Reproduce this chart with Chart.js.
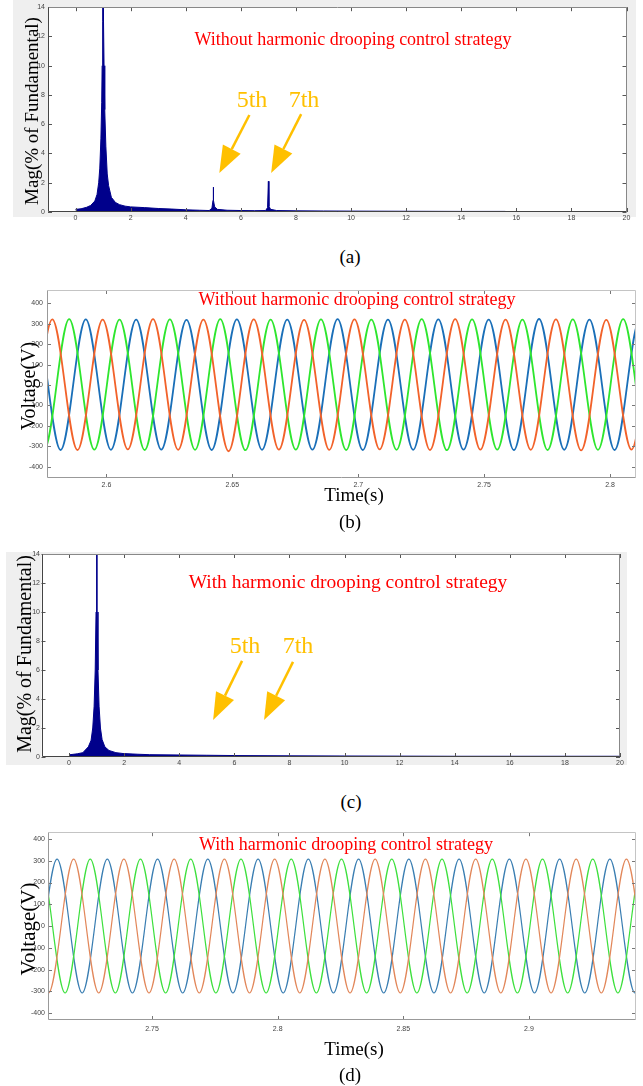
<!DOCTYPE html>
<html>
<head>
<meta charset="utf-8">
<script src="https://cdn.jsdelivr.net/npm/chart.js@4.4.1/dist/chart.umd.min.js"></script>
<style>
  html, body { margin: 0; padding: 0; background: #fff; }
  #page { position: relative; width: 643px; height: 1086px; overflow: hidden; }
  canvas { position: absolute; left: 0; }
  .backdrop { position: absolute; background: #efefef; }
  .t { position: absolute; white-space: nowrap; line-height: 1; transform: translate(-50%, -50%);
       font-family: 'Liberation Serif', 'Times New Roman', serif; color: #000; }
  .red { color: #ff0000; font-size: 18px; }
  .gold { color: #ffc000; font-size: 24px; }
  .ylab { transform: translate(-50%, -50%) rotate(-90deg); }
  .cap { font-size: 19px; }
</style>
</head>
<body>
<div id="page">
  <div class="backdrop" style="left:13px;top:0;width:623px;height:217px"></div>
  <div class="backdrop" style="left:6px;top:552px;width:621px;height:213px"></div>

  <canvas id="spectrumBefore" width="643" height="232" style="top:0"></canvas>
  <canvas id="waveBefore" width="643" height="215" style="top:280px"></canvas>
  <canvas id="spectrumAfter" width="643" height="230" style="top:545px"></canvas>
  <canvas id="waveAfter" width="643" height="215" style="top:825px"></canvas>

  <div class="t red" style="left:353px;top:39px">Without harmonic drooping control strategy</div>
  <div class="t gold" style="left:252px;top:99px">5th</div>
  <div class="t gold" style="left:304px;top:99px">7th</div>
  <div class="t ylab" style="left:31px;top:111px;font-size:19px">Mag(% of Fundamental)</div>
  <div class="t cap" style="left:350px;top:256px">(a)</div>

  <div class="t red" style="left:357px;top:299px">Without harmonic drooping control strategy</div>
  <div class="t ylab" style="left:28px;top:386px;font-size:20px">Voltage(V)</div>
  <div class="t" style="left:354px;top:494px;font-size:19px">Time(s)</div>
  <div class="t cap" style="left:350px;top:521px">(b)</div>

  <div class="t red" style="left:348px;top:582px;font-size:19.5px">With harmonic drooping control strategy</div>
  <div class="t gold" style="left:245px;top:645px">5th</div>
  <div class="t gold" style="left:298px;top:645px">7th</div>
  <div class="t ylab" style="left:24px;top:654px;font-size:20px">Mag(% of Fundamental)</div>
  <div class="t cap" style="left:351px;top:801px">(c)</div>

  <div class="t red" style="left:346px;top:844px">With harmonic drooping control strategy</div>
  <div class="t ylab" style="left:28px;top:929px;font-size:21px">Voltage(V)</div>
  <div class="t" style="left:354px;top:1048px;font-size:19px">Time(s)</div>
  <div class="t cap" style="left:350px;top:1074px">(d)</div>
</div>

<script>
// ---- spectrum without droop control: harmonic order vs % of fundamental ----
const specFreqBefore = [0, 0.2, 0.4, 0.55, 0.7, 0.78, 0.84, 0.88, 0.92, 0.95,
  0.965, 0.985, 1.0, 1.015, 1.035, 1.06, 1.1, 1.15, 1.2, 1.3,
  1.45, 1.6, 1.8, 2.0, 2.5, 3.0, 3.5, 4.0, 4.5, 4.85,
  4.95, 4.99, 5.0, 5.01, 5.05, 5.15, 5.5, 6.0, 6.5, 6.9,
  6.97, 7.0, 7.02, 7.08, 7.3, 8.0, 9.0, 10.0, 12.0, 14.0, 15.6];
const specMagBefore = [0.18, 0.22, 0.32, 0.45, 0.75, 1.2, 2.0, 3.0, 5.0, 7.5,
  10, 13, 100, 13, 10, 7, 4.5, 2.6, 1.8, 1.0,
  0.65, 0.5, 0.4, 0.35, 0.3, 0.24, 0.2, 0.15, 0.12, 0.1,
  0.25, 0.8, 1.7, 0.8, 0.35, 0.18, 0.12, 0.1, 0.09, 0.1,
  0.3, 2.1, 0.4, 0.18, 0.1, 0.08, 0.07, 0.06, 0.05, 0.04, 0.04];

// ---- spectrum with droop control ----
const specFreqAfter = [0, 0.3, 0.5, 0.7, 0.8, 0.86, 0.91, 0.95, 0.98, 1.0,
  1.02, 1.05, 1.09, 1.14, 1.2, 1.3, 1.45, 1.7, 1.96, 2.5,
  2.93, 4.0, 5.0, 6.0, 8.0, 10.0, 12.0, 14.0, 16.0, 18.0, 20.0];
const specMagAfter = [0.15, 0.22, 0.3, 0.7, 1.15, 2.0, 3.5, 6.0, 10, 100,
  10, 6.0, 3.5, 2.0, 1.2, 0.7, 0.45, 0.3, 0.24, 0.19,
  0.16, 0.14, 0.12, 0.1, 0.08, 0.07, 0.06, 0.05, 0.05, 0.05, 0.05];

// ---- phase voltages without droop control: peak/trough instants (s) and values (V) ----
const waveTimeBeforeA = [2.5585, 2.5685, 2.5785, 2.5885, 2.5985, 2.6085, 2.6185, 2.6285, 2.6385, 2.6485,
  2.6585, 2.6685, 2.6785, 2.6885, 2.6985, 2.7085, 2.7185, 2.7285, 2.7385, 2.7485,
  2.7585, 2.7685, 2.7785, 2.7885, 2.7985, 2.8085, 2.8185, 2.8285];
const waveVoltBeforeA = [320, -316, 321, -318, 320, -315, 322, -317, 320, -324, 321, -316, 319, -317,
  321, -315, 320, -318, 322, -316, 320, -317, 321, -320, 319, -316, 320, -318];
const waveTimeBeforeB = [2.5552, 2.5652, 2.5752, 2.5852, 2.5952, 2.6052, 2.6152, 2.6252, 2.6352, 2.6452,
  2.6552, 2.6652, 2.6752, 2.6852, 2.6952, 2.7052, 2.7152, 2.7252, 2.7352, 2.7452,
  2.7552, 2.7652, 2.7752, 2.7852, 2.7952, 2.8052, 2.8152, 2.8252];
const waveVoltBeforeB = [-318, 321, -320, 322, -316, 320, -318, 321, -317, 322, -319, 320, -316, 321,
  -318, 320, -317, 322, -319, 321, -316, 320, -318, 321, -317, 322, -318, 320];
const waveTimeBeforeC = [2.5618, 2.5718, 2.5818, 2.5918, 2.6018, 2.6118, 2.6218, 2.6318, 2.6418, 2.6518,
  2.6618, 2.6718, 2.6818, 2.6918, 2.7018, 2.7118, 2.7218, 2.7318, 2.7418, 2.7518,
  2.7618, 2.7718, 2.7818, 2.7918, 2.8018, 2.8118, 2.8218, 2.8318];
const waveVoltBeforeC = [-316, 319, -318, 321, -317, 320, -316, 319, -318, 321, -317, 320, -316, 322,
  -318, 320, -317, 321, -316, 320, -318, 323, -317, 320, -318, 321, -316, 320];

// ---- phase voltages with droop control ----
const waveTimeAfterA = [2.6888, 2.6988, 2.7088, 2.7188, 2.7288, 2.7388, 2.7488, 2.7588, 2.7688, 2.7788,
  2.7888, 2.7988, 2.8088, 2.8188, 2.8288, 2.8388, 2.8488, 2.8588, 2.8688, 2.8788,
  2.8888, 2.8988, 2.9088, 2.9188, 2.9288, 2.9388, 2.9488, 2.9588];
const waveVoltAfterA = [-307, 307, -307, 307, -307, 307, -307, 307, -307, 307, -307, 307, -307, 307,
  -307, 307, -307, 307, -307, 307, -307, 307, -307, 307, -307, 307, -307, 307];
const waveTimeAfterB = [2.6954, 2.7054, 2.7154, 2.7254, 2.7354, 2.7454, 2.7554, 2.7654, 2.7754, 2.7854,
  2.7954, 2.8054, 2.8154, 2.8254, 2.8354, 2.8454, 2.8554, 2.8654, 2.8754, 2.8854,
  2.8954, 2.9054, 2.9154, 2.9254, 2.9354, 2.9454, 2.9554];
const waveVoltAfterB = [-307, 307, -307, 307, -307, 307, -307, 307, -307, 307, -307, 307, -307, 307,
  -307, 307, -307, 307, -307, 307, -307, 307, -307, 307, -307, 307, -307];
const waveTimeAfterC = [2.6922, 2.7022, 2.7122, 2.7222, 2.7322, 2.7422, 2.7522, 2.7622, 2.7722, 2.7822,
  2.7922, 2.8022, 2.8122, 2.8222, 2.8322, 2.8422, 2.8522, 2.8622, 2.8722, 2.8822,
  2.8922, 2.9022, 2.9122, 2.9222, 2.9322, 2.9422, 2.9522, 2.9622];
const waveVoltAfterC = [307, -307, 307, -307, 307, -307, 307, -307, 307, -307, 307, -307, 307, -307,
  307, -307, 307, -307, 307, -307, 307, -307, 307, -307, 307, -307, 307, -307];

const NAVY = '#00008b';
const GOLD = '#ffc000';

Chart.defaults.font.family = "'Liberation Sans', Arial, sans-serif";
Chart.defaults.font.size = 7;
Chart.defaults.color = '#444';
Chart.defaults.animation = false;

const pairs = (xs, ys) => xs.map((x, i) => ({ x, y: ys[i] }));

// white plot box, MATLAB style inward ticks and outline
const framePlugin = {
  id: 'frame',
  beforeDraw(chart, args, opts) {
    const { ctx, chartArea: a } = chart;
    ctx.save();
    ctx.fillStyle = '#fff';
    ctx.fillRect(a.left, a.top, a.width, a.height);
    ctx.restore();
  },
  afterDraw(chart, args, opts) {
    const { ctx, chartArea: a, scales: { x, y } } = chart;
    const L = 4;
    ctx.save();
    ctx.lineWidth = 1;
    ctx.strokeStyle = opts.tick;
    ctx.beginPath();
    x.ticks.forEach(t => {
      const px = Math.round(x.getPixelForValue(t.value)) + 0.5;
      ctx.moveTo(px, a.bottom); ctx.lineTo(px, a.bottom - L);
      ctx.moveTo(px, a.top); ctx.lineTo(px, a.top + L);
    });
    y.ticks.forEach(t => {
      const py = Math.round(y.getPixelForValue(t.value)) + 0.5;
      ctx.moveTo(a.left, py); ctx.lineTo(a.left + L, py);
      ctx.moveTo(a.right, py); ctx.lineTo(a.right - L, py);
    });
    ctx.stroke();
    const l = Math.round(a.left) + 0.5, r = Math.round(a.right) - 0.5;
    const tp = Math.round(a.top) + 0.5, b = Math.round(a.bottom) - 0.5;
    ctx.strokeStyle = opts.light;
    ctx.beginPath();
    ctx.moveTo(l, tp); ctx.lineTo(r, tp); ctx.lineTo(r, b);
    ctx.stroke();
    ctx.strokeStyle = opts.dark;
    ctx.beginPath();
    ctx.moveTo(l, tp); ctx.lineTo(l, b); ctx.lineTo(r, b);
    ctx.stroke();
    ctx.restore();
  }
};

// block arrows pointing at the harmonic orders, given in data units
const arrowPlugin = {
  id: 'arrows',
  afterDraw(chart, args, opts) {
    if (!opts.list) return;
    const { ctx, scales: { x, y } } = chart;
    opts.list.forEach(([x0, y0, x1, y1]) => {
      const ax = x.getPixelForValue(x0), ay = y.getPixelForValue(y0);
      const bx = x.getPixelForValue(x1), by = y.getPixelForValue(y1);
      const ang = Math.atan2(by - ay, bx - ax);
      const headLen = 27, half = 10;
      const hx = bx - headLen * Math.cos(ang), hy = by - headLen * Math.sin(ang);
      ctx.save();
      ctx.strokeStyle = GOLD;
      ctx.fillStyle = GOLD;
      ctx.lineWidth = 2.5;
      ctx.beginPath(); ctx.moveTo(ax, ay); ctx.lineTo(hx, hy); ctx.stroke();
      ctx.beginPath();
      ctx.moveTo(bx, by);
      ctx.lineTo(hx + half * Math.sin(ang), hy - half * Math.cos(ang));
      ctx.lineTo(hx - half * Math.sin(ang), hy + half * Math.cos(ang));
      ctx.closePath();
      ctx.fill();
      ctx.restore();
    });
  }
};

function makeChart(id, box, datasets, xAxis, yAxis, frame, arrows) {
  const canvas = document.getElementById(id);
  return new Chart(canvas, {
    type: 'line',
    data: { datasets },
    options: {
      responsive: false,
      devicePixelRatio: 1,
      events: [],
      layout: { autoPadding: false, padding: { top: box.top, right: canvas.width - box.right, left: 0, bottom: 0 } },
      elements: { point: { radius: 0 } },
      plugins: { legend: { display: false }, tooltip: { enabled: false }, frame, arrows: { list: arrows } },
      scales: {
        x: {
          type: 'linear', min: xAxis.min, max: xAxis.max,
          grid: { display: false, drawTicks: false }, border: { display: false },
          ticks: { stepSize: xAxis.step, includeBounds: false, padding: xAxis.pad, maxRotation: 0, autoSkip: false,
                   callback: v => String(+v.toFixed(2)) },
          afterFit: s => { s.height = canvas.height - box.bottom; }
        },
        y: {
          type: 'linear', min: yAxis.min, max: yAxis.max,
          grid: { display: false, drawTicks: false }, border: { display: false },
          ticks: { stepSize: yAxis.step, includeBounds: false, padding: yAxis.pad, autoSkip: false },
          afterFit: s => { s.width = box.left; }
        }
      }
    },
    plugins: [framePlugin, arrowPlugin]
  });
}

const spectrumSet = (xs, ys) => ({
  data: pairs(xs, ys), borderColor: NAVY, backgroundColor: NAVY, borderWidth: 1,
  fill: 'origin', tension: 0, clip: 0
});
const waveSet = (xs, ys, color, width) => ({
  data: pairs(xs, ys), borderColor: color, borderWidth: width, fill: false,
  cubicInterpolationMode: 'monotone', capBezierPoints: false, clip: 0
});

const darkFrame = { tick: '#555', dark: '#444', light: '#888' };
const lightFrame = { tick: '#777', dark: '#999', light: '#c4c4c4' };

makeChart('spectrumBefore', { left: 48, right: 626.5, top: 7, bottom: 212 },
  [spectrumSet(specFreqBefore, specMagBefore)],
  { min: -1, max: 20, step: 2, pad: 2 }, { min: 0, max: 14, step: 2, pad: 3 },
  darkFrame, [[6.31, 6.63, 5.22, 2.66], [8.19, 6.69, 7.10, 2.66]]);

makeChart('waveBefore', { left: 47, right: 636, top: 10, bottom: 198 },
  [waveSet(waveTimeBeforeA, waveVoltBeforeA, '#f2622a', 1.8),
   waveSet(waveTimeBeforeB, waveVoltBeforeB, '#2ee62e', 1.8),
   waveSet(waveTimeBeforeC, waveVoltBeforeC, '#1a6fb8', 1.8)],
  { min: 2.5764, max: 2.8103, step: 0.05, pad: 3 }, { min: -455, max: 465, step: 100, pad: 4 },
  lightFrame, null);

makeChart('spectrumAfter', { left: 41.5, right: 620, top: 9, bottom: 212 },
  [spectrumSet(specFreqAfter, specMagAfter)],
  { min: -1, max: 20, step: 2, pad: 1.5 }, { min: 0, max: 14, step: 2, pad: 1.5 },
  darkFrame, [[6.28, 6.63, 5.23, 2.56], [8.13, 6.56, 7.08, 2.56]]);

makeChart('waveAfter', { left: 48, right: 636, top: 7, bottom: 195 },
  [waveSet(waveTimeAfterA, waveVoltAfterA, '#e2875a', 1.2),
   waveSet(waveTimeAfterB, waveVoltAfterB, '#3ee03e', 1.2),
   waveSet(waveTimeAfterC, waveVoltAfterC, '#3a7eb2', 1.2)],
  { min: 2.7086, max: 2.9426, step: 0.05, pad: 5 }, { min: -431, max: 431, step: 100, pad: 3 },
  lightFrame, null);
</script>
</body>
</html>
